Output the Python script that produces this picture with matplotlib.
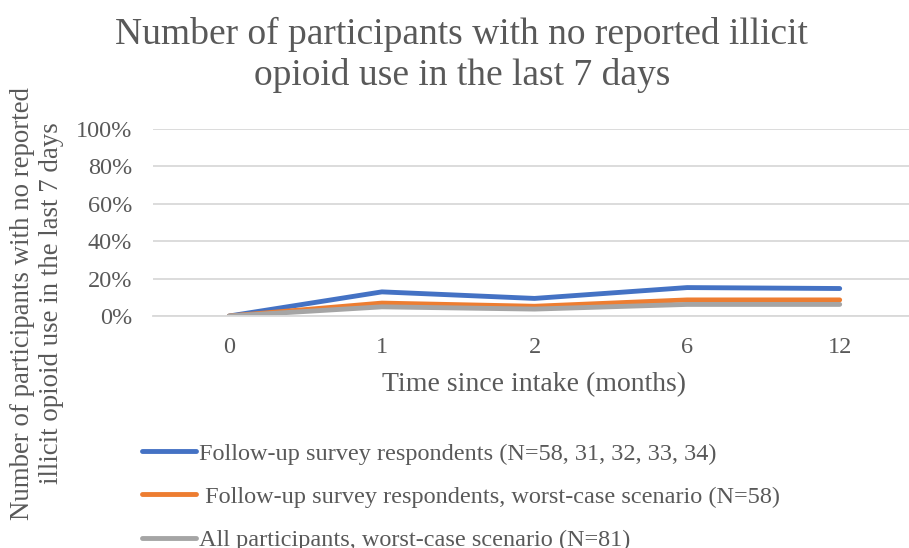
import matplotlib.pyplot as plt
from matplotlib.ticker import PercentFormatter

plt.rcParams['font.family'] = ['Liberation Serif', 'DejaVu Serif']

months = ['0', '1', '2', '6', '12']
respondents = [0.0, 12.9, 9.4, 15.2, 14.7]
respondents_worst = [0.0, 6.9, 5.2, 8.6, 8.6]
all_worst = [0.0, 4.9, 3.7, 6.2, 6.2]

labels = ['Follow-up survey respondents (N=58, 31, 32, 33, 34)',
          ' Follow-up survey respondents, worst-case scenario (N=58)',
          'All participants, worst-case scenario (N=81)']
colors = ['#4472C4', '#ED7D31', '#A5A5A5']

text_col = '#595959'
grid_col = '#D9D9D9'

fig = plt.figure(figsize=(9.09, 5.48), dpi=100)
ax = fig.add_axes([153 / 909, 1 - 316 / 548, 763 / 909, 187 / 548])

x = range(len(months))
handles = []
for vals, col, lab in zip([respondents, respondents_worst, all_worst], colors, labels):
    h, = ax.plot(x, vals, color=col, lw=3.5, solid_capstyle='round',
                 solid_joinstyle='round', label=lab)
    handles.append(h)

ax.set_xlim(-0.5, len(months) - 0.5)
ax.set_ylim(0, 100)
ax.set_yticks(range(0, 101, 20))
ax.yaxis.set_major_formatter(PercentFormatter(decimals=0))
ax.set_xticks(list(x))
ax.set_xticklabels(months)
ax.grid(axis='y', color=grid_col, lw=1.3)
ax.set_axisbelow(True)
for s in ['top', 'right', 'left']:
    ax.spines[s].set_visible(False)
ax.spines['bottom'].set_color(grid_col)
ax.spines['bottom'].set_linewidth(1.3)
ax.tick_params(length=0, labelsize=17.5, colors=text_col)
ax.tick_params(axis='y', pad=15)
ax.tick_params(axis='x', pad=15)

ax.set_xlabel('Time since intake (months)', fontsize=20, color=text_col, labelpad=10)
fig.text(37 / 909, 1 - 303 / 548,
         'Number of participants with no reported\nillicit opioid use in the last 7 days',
         rotation=90, ha='center', va='center', fontsize=19.4, color=text_col,
         linespacing=1.2)

fig.text(0.508, 1 - 55 / 548,
         'Number of participants with no reported illicit\nopioid use in the last 7 days',
         ha='center', va='center', fontsize=27, color=text_col, linespacing=1.25)

fig.legend(handles=handles, loc='upper left', bbox_to_anchor=(132 / 909, 1 - 433 / 548),
           frameon=False, fontsize=17.5, labelcolor=text_col, handlelength=2.25,
           handletextpad=0.12, labelspacing=0.87, borderaxespad=0)

fig.savefig('out.png', dpi=100)
